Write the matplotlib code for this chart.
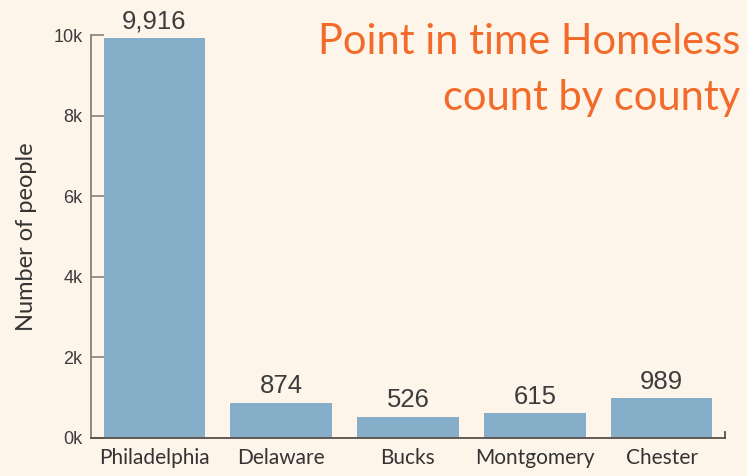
import matplotlib
matplotlib.use("Agg")
import matplotlib.pyplot as plt
from matplotlib.ticker import FuncFormatter

counties = ["Philadelphia", "Delaware", "Bucks", "Montgomery", "Chester"]
counts = [9916, 874, 526, 615, 989]
yticks = [0, 2000, 4000, 6000, 8000, 10000]

bg = "#FDF5E9"
bar_color = "#86AEC9"
title_color = "#F26B2A"
text_color = "#333333"
num_color = "#3c3c3c"

fig = plt.figure(figsize=(7.47, 4.76), dpi=100, facecolor=bg)
ax = fig.add_axes([91/747, 1-438/476, (725-91)/747, (438-35)/476])
ax.set_facecolor(bg)

x = list(range(len(counties)))
bars = ax.bar(x, counts, width=0.8, color=bar_color, zorder=3)
for xi, v in zip(x, counts):
    ax.text(xi, v + 110, f"{v:,}", ha="center", va="bottom",
            fontsize=18.5, color=num_color, family="Liberation Sans")

ax.set_xlim(-0.5, 4.5)
ax.set_ylim(0, 10000)
ax.set_yticks(yticks)
ax.yaxis.set_major_formatter(FuncFormatter(lambda v, p: f"{v/1000:.0f}k"))
ax.set_xticks(x)
ax.set_xticklabels(counties, family="Lato", fontsize=15, color=text_color)
ax.tick_params(axis="x", length=0, pad=7)
ax.tick_params(axis="y", direction="in", length=9, width=1.2, color="#8b7d78",
               labelsize=13, labelcolor=num_color, pad=6)
for lbl in ax.get_yticklabels():
    lbl.set_family("Liberation Sans")

ax.spines["top"].set_visible(False)
ax.spines["left"].set_color("#8b7d78")
ax.spines["left"].set_linewidth(1.3)
ax.spines["bottom"].set_color("#5a4f4b")
ax.spines["bottom"].set_linewidth(1.3)
ax.spines["bottom"].set_zorder(4)
ax.spines["right"].set_color("#5a4f4b")
ax.spines["right"].set_linewidth(1.3)
ax.spines["right"].set_bounds(0, 160)

ax.set_ylabel("Number of people", family="Lato", fontsize=17, color=text_color, labelpad=12)

fig.text(740/747, 1-54/476, "Point in time Homeless", ha="right", va="baseline",
         fontsize=30, color=title_color, family="Lato")
fig.text(740/747, 1-110/476, "count by county", ha="right", va="baseline",
         fontsize=30, color=title_color, family="Lato")

fig.savefig("out.png", dpi=100, facecolor=bg)
